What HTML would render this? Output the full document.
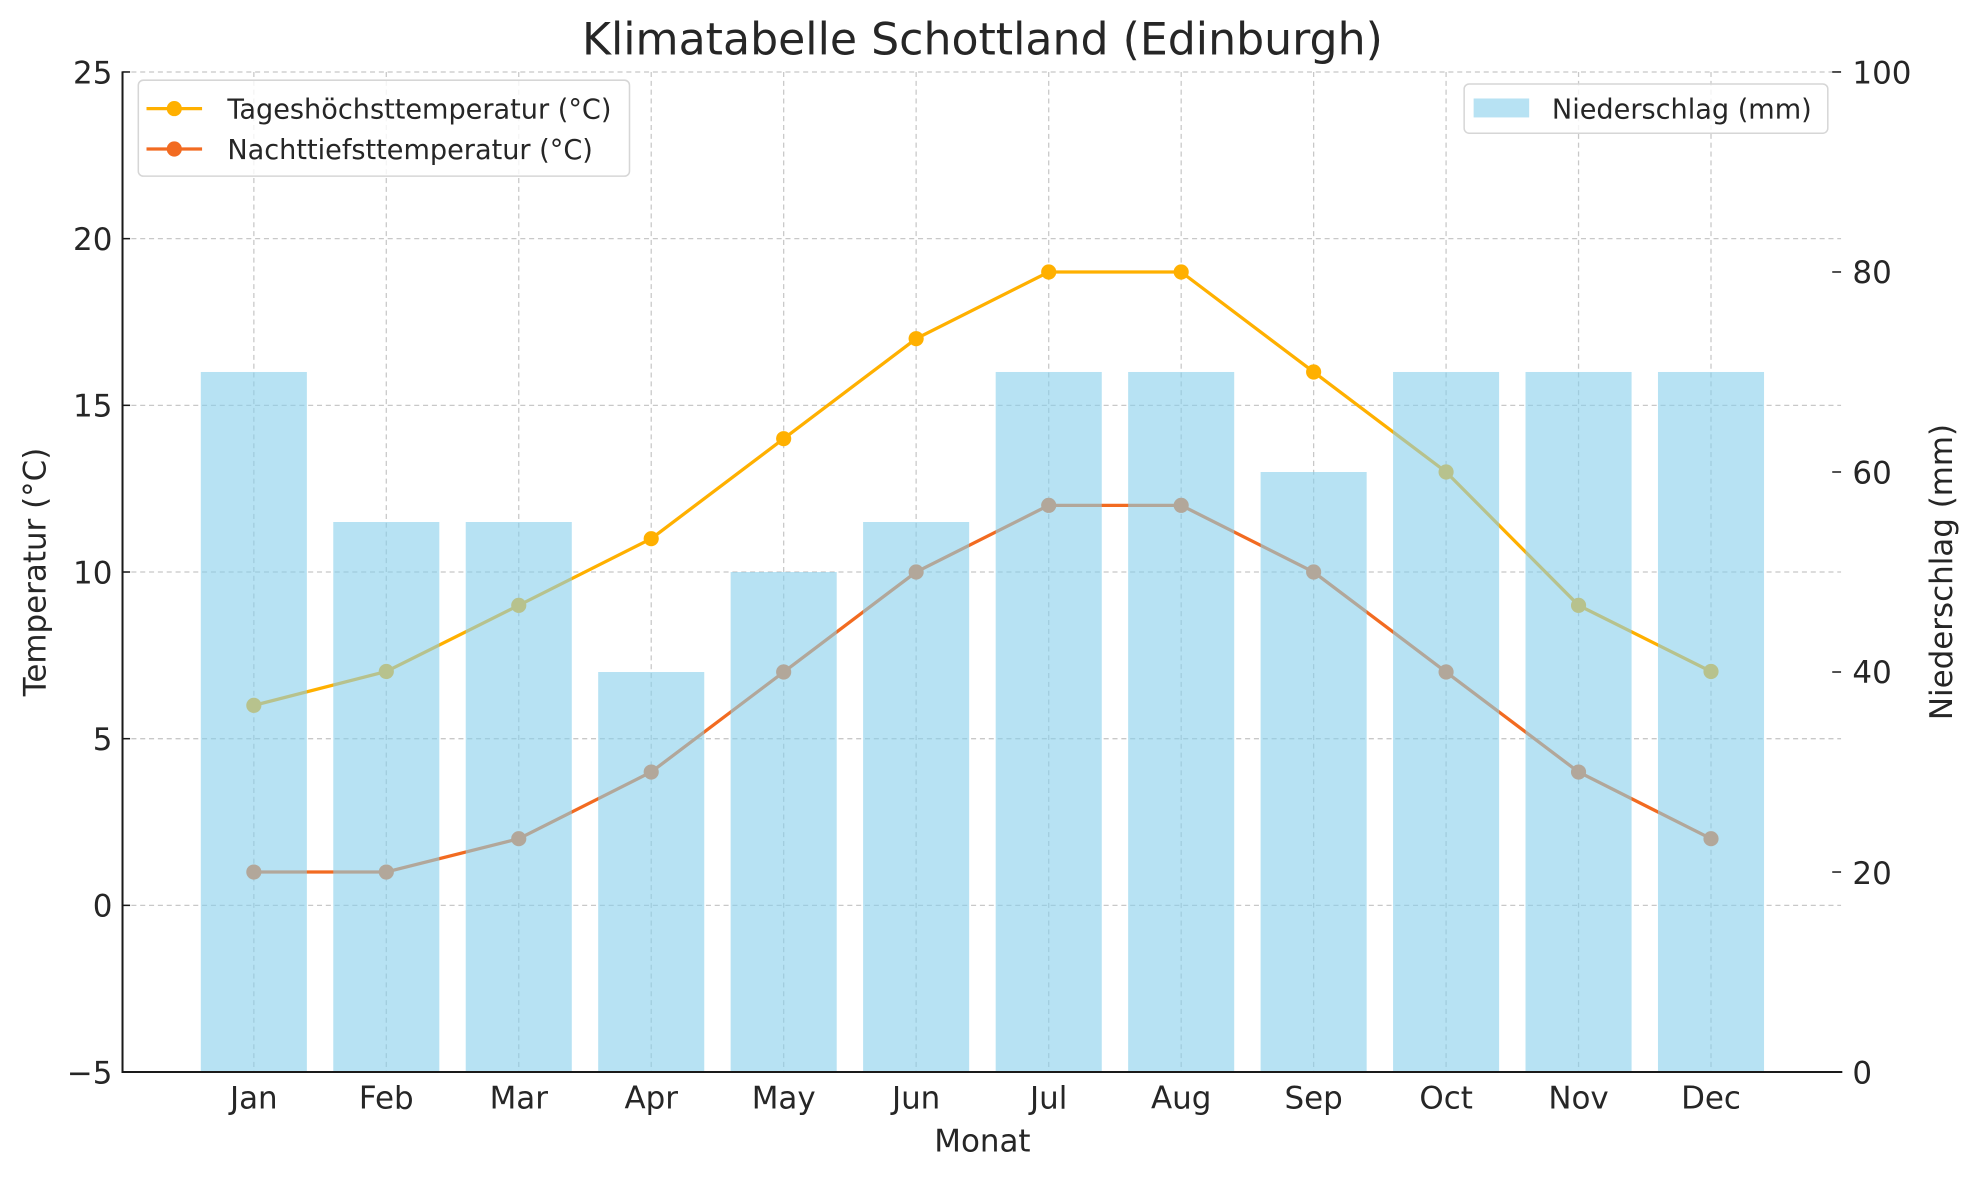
<!DOCTYPE html>
<html><head><meta charset="utf-8"><style>
html,body{margin:0;padding:0;background:#fff}
svg{display:block}
text{font-family:"DejaVu Sans","Liberation Sans",sans-serif;fill:#262626}
</style></head><body>
<svg width="1980" height="1180" viewBox="0 0 1568 934.5" xmlns="http://www.w3.org/2000/svg">
<rect width="1568" height="934.5" fill="#fff"/>
<g stroke="#c8c8c8" stroke-width="1" stroke-dasharray="4,3" fill="none">
<line x1="97" x2="1458" y1="57" y2="57"/><line x1="97" x2="1458" y1="189" y2="189"/>
<line x1="97" x2="1458" y1="321" y2="321"/><line x1="97" x2="1458" y1="453" y2="453"/>
<line x1="97" x2="1458" y1="585" y2="585"/><line x1="97" x2="1458" y1="717" y2="717"/>
<line x1="201" x2="201" y1="57" y2="849"/><line x1="305.9" x2="305.9" y1="57" y2="849"/>
<line x1="410.8" x2="410.8" y1="57" y2="849"/><line x1="515.7" x2="515.7" y1="57" y2="849"/>
<line x1="620.6" x2="620.6" y1="57" y2="849"/><line x1="725.5" x2="725.5" y1="57" y2="849"/>
<line x1="830.5" x2="830.5" y1="57" y2="849"/><line x1="935.4" x2="935.4" y1="57" y2="849"/>
<line x1="1040.3" x2="1040.3" y1="57" y2="849"/><line x1="1145.2" x2="1145.2" y1="57" y2="849"/>
<line x1="1250.1" x2="1250.1" y1="57" y2="849"/><line x1="1355" x2="1355" y1="57" y2="849"/>
</g>
<g fill="#ffb000" stroke="#ffb000">
<polyline fill="none" stroke-width="2.6" points="201,558.6 305.9,531.8 410.8,479.4 515.7,426.6 620.6,347.4 725.5,268.2 830.5,215.4 935.4,215.4 1040.3,294.6 1145.2,373.8 1250.1,479.4 1355,531.8"/>
<g stroke="none"><circle cx="201" cy="558.6" r="6"/><circle cx="305.9" cy="531.8" r="6"/><circle cx="410.8" cy="479.4" r="6"/><circle cx="515.7" cy="426.6" r="6"/><circle cx="620.6" cy="347.4" r="6"/><circle cx="725.5" cy="268.2" r="6"/><circle cx="830.5" cy="215.4" r="6"/><circle cx="935.4" cy="215.4" r="6"/><circle cx="1040.3" cy="294.6" r="6"/><circle cx="1145.2" cy="373.8" r="6"/><circle cx="1250.1" cy="479.4" r="6"/><circle cx="1355" cy="531.8" r="6"/></g>
</g>
<g fill="#f26b21" stroke="#f26b21">
<polyline fill="none" stroke-width="2.6" points="201,690.6 305.9,690.6 410.8,664.2 515.7,611.4 620.6,532.2 725.5,453 830.5,400.2 935.4,400.2 1040.3,453 1145.2,532.2 1250.1,611.4 1355,664.2"/>
<g stroke="none"><circle cx="201" cy="690.6" r="6"/><circle cx="305.9" cy="690.6" r="6"/><circle cx="410.8" cy="664.2" r="6"/><circle cx="515.7" cy="611.4" r="6"/><circle cx="620.6" cy="532.2" r="6"/><circle cx="725.5" cy="453" r="6"/><circle cx="830.5" cy="400.2" r="6"/><circle cx="935.4" cy="400.2" r="6"/><circle cx="1040.3" cy="453" r="6"/><circle cx="1145.2" cy="532.2" r="6"/><circle cx="1250.1" cy="611.4" r="6"/><circle cx="1355" cy="664.2" r="6"/></g>
</g>
<g fill="#87ceeb" fill-opacity="0.6">
<rect x="159" y="294.6" width="84" height="554.4"/>
<rect x="263.9" y="413.4" width="84" height="435.6"/>
<rect x="368.8" y="413.4" width="84" height="435.6"/>
<rect x="473.7" y="532.2" width="84" height="316.8"/>
<rect x="578.6" y="453" width="84" height="396"/>
<rect x="683.5" y="413.4" width="84" height="435.6"/>
<rect x="788.5" y="294.6" width="84" height="554.4"/>
<rect x="893.4" y="294.6" width="84" height="554.4"/>
<rect x="998.3" y="373.8" width="84" height="475.2"/>
<rect x="1103.2" y="294.6" width="84" height="554.4"/>
<rect x="1208.1" y="294.6" width="84" height="554.4"/>
<rect x="1313" y="294.6" width="84" height="554.4"/>
</g>
<g stroke="#1a1a1a" stroke-width="1.6">
<line x1="97" y1="56.5" x2="97" y2="849.8"/>
<line x1="96.2" y1="849" x2="1459" y2="849"/>
</g>
<g stroke="#1a1a1a" stroke-width="1.2">
<line x1="97" x2="103" y1="57" y2="57"/><line x1="97" x2="103" y1="189" y2="189"/><line x1="97" x2="103" y1="321" y2="321"/><line x1="97" x2="103" y1="453" y2="453"/><line x1="97" x2="103" y1="585" y2="585"/><line x1="97" x2="103" y1="717" y2="717"/>
<line x1="1451" x2="1458" y1="57" y2="57"/><line x1="1451" x2="1458" y1="215.4" y2="215.4"/><line x1="1451" x2="1458" y1="373.8" y2="373.8"/><line x1="1451" x2="1458" y1="532.2" y2="532.2"/><line x1="1451" x2="1458" y1="690.6" y2="690.6"/>
</g>
<g font-size="24.5" text-anchor="end">
<text x="89" y="66">25</text><text x="89" y="198">20</text><text x="89" y="330">15</text><text x="89" y="462">10</text><text x="89" y="594">5</text><text x="89" y="726">0</text><text x="89" y="858">−5</text>
</g>
<g font-size="24.5" text-anchor="start">
<text x="1467" y="66">100</text><text x="1467" y="224">80</text><text x="1467" y="383">60</text><text x="1467" y="541">40</text><text x="1467" y="700">20</text><text x="1467" y="858">0</text>
</g>
<g font-size="24.5" text-anchor="middle">
<text x="201" y="878">Jan</text><text x="305.9" y="878">Feb</text><text x="410.8" y="878">Mar</text><text x="515.7" y="878">Apr</text><text x="620.6" y="878">May</text><text x="725.5" y="878">Jun</text><text x="830.5" y="878">Jul</text><text x="935.4" y="878">Aug</text><text x="1040.3" y="878">Sep</text><text x="1145.2" y="878">Oct</text><text x="1250.1" y="878">Nov</text><text x="1355" y="878">Dec</text>
<text x="778" y="912">Monat</text>
<text x="778" y="43" font-size="35" fill="#333">Klimatabelle Schottland (Edinburgh)</text>
<text transform="translate(36,453) rotate(-90)">Temperatur (°C)</text>
<text transform="translate(1546,453) rotate(-90)">Niederschlag (mm)</text>
</g>
<rect x="109.5" y="63.5" width="389" height="76" rx="4" fill="#fff" fill-opacity="0.8" stroke="#d6d6d6" stroke-width="1.2"/>
<line x1="116" x2="160" y1="86" y2="86" stroke="#ffb000" stroke-width="2.6"/><circle cx="138" cy="86" r="6" fill="#ffb000"/>
<line x1="116" x2="160" y1="118" y2="118" stroke="#f26b21" stroke-width="2.6"/><circle cx="138" cy="118" r="6" fill="#f26b21"/>
<text x="180" y="94" font-size="21.5" fill="#333">Tageshöchsttemperatur (°C)</text>
<text x="180" y="126" font-size="21.5" fill="#333">Nachttiefsttemperatur (°C)</text>
<rect x="1159.5" y="66.5" width="288" height="39" rx="4" fill="#fff" fill-opacity="0.8" stroke="#d6d6d6" stroke-width="1.2"/>
<rect x="1167" y="78" width="44" height="15" fill="#87ceeb" fill-opacity="0.6"/>
<text x="1229" y="94" font-size="21.5" fill="#333">Niederschlag (mm)</text>
</svg>
</body></html>
